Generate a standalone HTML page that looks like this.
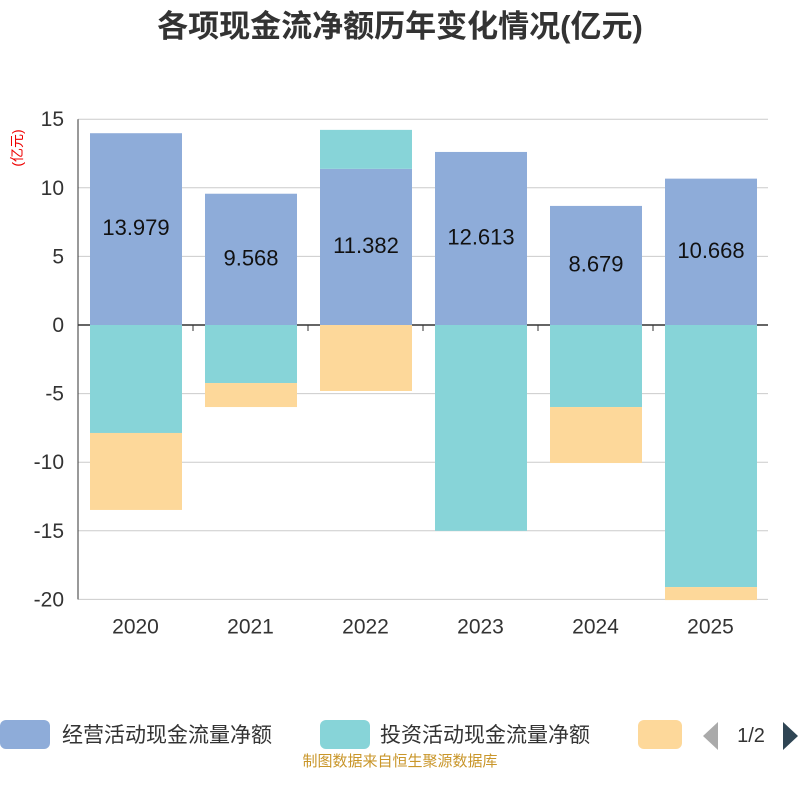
<!DOCTYPE html>
<html><head><meta charset="utf-8"><style>
body{margin:0;background:#fff;width:800px;height:800px;overflow:hidden;font-family:"Liberation Sans","Noto Sans CJK SC",sans-serif}
</style></head><body>
<svg id="chart" width="800" height="800" xmlns="http://www.w3.org/2000/svg" font-family="Liberation Sans, Noto Sans CJK SC, sans-serif">
<text x="400" y="37" text-anchor="middle" font-size="31" font-weight="bold" fill="#333">各项现金流净额历年变化情况(亿元)</text>
<text transform="translate(22,148) rotate(-90)" text-anchor="middle" font-size="14" fill="#e00">(亿元)</text>
<g id="grid"></g><g id="bars"></g><g id="labels"></g>
<g>
<rect x="0" y="720" width="50" height="29" rx="6" fill="#8eacd9"/>
<text x="62" y="742" font-size="21" fill="#333">经营活动现金流量净额</text>
<rect x="320" y="720" width="50" height="29" rx="6" fill="#87d4d8"/>
<text x="380" y="742" font-size="21" fill="#333">投资活动现金流量净额</text>
<rect x="638" y="720" width="44" height="29" rx="6" fill="#fdd89a"/>
<path d="M718 722 L703 736 L718 750 Z" fill="#aaa"/>
<text x="751" y="742" text-anchor="middle" font-size="20" fill="#333">1/2</text>
<path d="M783 722 L798 736 L783 750 Z" fill="#2f4554"/>
</g>
<text x="400" y="766" text-anchor="middle" font-size="15" fill="#c9962a">制图数据来自恒生聚源数据库</text>
</svg>
<script>
const categories=["2020","2021","2022","2023","2024","2025"];
const operating=[13.979,9.568,11.382,12.613,8.679,10.668];
const investing=[-7.87,-4.23,2.84,-15.0,-5.98,-19.1];
const financing=[-5.61,-1.75,-4.81,0,-4.08,-0.95];
const yTicks=[15,10,5,0,-5,-10,-15,-20];
const NS="http://www.w3.org/2000/svg";
const x0=78,x1=768,y0=325,ppu=13.72;
const y=v=>y0-v*ppu;
const bw=(x1-x0)/categories.length;
const g=document.getElementById('grid'),b=document.getElementById('bars'),l=document.getElementById('labels');
function mk(tag,attrs,parent){const e=document.createElementNS(NS,tag);for(const k in attrs)e.setAttribute(k,attrs[k]);parent.appendChild(e);return e;}
yTicks.forEach(t=>{
 const ln=mk('line',{x1:x0,x2:x1,y1:y(t),y2:y(t),stroke:t===0?'#333':'#ccc','stroke-width':t===0?1.5:1},g);
 
 
 const tx=mk('text',{x:x0-14,y:y(t)+7,'text-anchor':'end','font-size':21,fill:'#333'},g);tx.textContent=t;
 
 
});
const ax=mk('line',{x1:x0,x2:x0,y1:y(15),y2:y(-20),stroke:'#333'},g);


categories.forEach((c,i)=>{
 const tk=mk('line',{x1:x0+bw*i,x2:x0+bw*i,y1:y0,y2:y0+6,stroke:'#333'},g);
 
 
 const tx=mk('text',{x:x0+bw*(i+0.5),y:y(-20)+34,'text-anchor':'middle','font-size':21,fill:'#333'},g);tx.textContent=c;
 
 
 let pos=0,neg=0;
 const bx=x0+bw*i+12,w=bw-23;
 [[operating[i],'#8eacd9','bar-operating'],[investing[i],'#87d4d8','bar-investing'],[financing[i],'#fdd89a','bar-financing']].forEach(([v,col,name])=>{
  if(!v)return;
  let top,bot;
  if(v>0){bot=pos;pos+=v;top=pos;}else{top=neg;neg+=v;bot=neg;}
  const r=mk('rect',{x:bx,y:y(top),width:w,height:y(bot)-y(top),fill:col},b);
  
  
 });
 const lb=mk('text',{x:bx+w/2,y:y(operating[i]/2)+6,'text-anchor':'middle','font-size':22,fill:'#111'},l);lb.textContent=operating[i].toFixed(3);
 
 
});
</script>
</body></html>
